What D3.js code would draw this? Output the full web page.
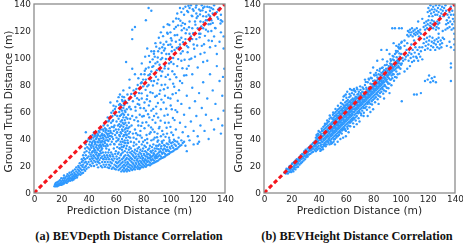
<!DOCTYPE html>
<html>
<head>
<meta charset="utf-8">
<script src="https://cdn.jsdelivr.net/npm/d3@7"></script>
<style>
  body { margin: 0; background: #fff; }
  svg { display: block; }
</style>
</head>
<body>
<div class="chart"></div>
<script>
//Tick values shared by both axes of both panels.
const tickValues = [0, 20, 40, 60, 80, 100, 120, 140];
const xTitle = "Prediction Distance (m)";
const yTitle = "Ground Truth Distance (m)";
const captions = ["(a) BEVDepth Distance Correlation", "(b) BEVHeight Distance Correlation"];

//Points, [prediction, ground truth].
//Near field of BEVDepth, the narrow tail below the line.
const depthTail = [
[15,5],[15.5,6.5],[16,5],[16,7.5],[16.5,6],[17,5],[17,8],[17.5,6.5],[18,5.5],[18,8.5],[18.5,7],[19,6],[19,9.5],[19.5,7.5],[20,6],[20,8.5],[20,11],[20.5,7],[21,9.5],[21,6.5],[21.5,8],[21.5,11],[22,7],[22,9],[22,13],[22.5,10.5],[23,8],[23,11.5],[23.5,9],[24,7.5],[24,10],[24,12.5],[24.5,14],[25,8.5],[25,11],[25.5,9.5],[25.5,13],[26,10.5],[26,12],[26,15],[26.5,9],[27,11],[27,13.5],[27.5,10],[27.5,15.5],[28,12],[28,9.5],[28,14],[28.5,11],[28.5,16.5],[29,10],[29,13],[29.5,15],[29.5,12],[30,11],[30,14],[30,17.5],[30.5,12.5],[31,16],[31,13.5],[31,19],[31.5,11.5],[32,15],[32,17.5],[32,13],[32.5,20],[33,14],[33,16.5],[33,19],[33.5,22],[34,13.5],[34,15.5],[34,18],[34.5,20.5],[35,14.5],[35,17],[35,23],[35,25],[35.5,19.5],[36,15],[36,21],[36,24],[36,28],[36.5,17.5],[36.5,26],[37,19],[37,22.5],[37,30],[37.5,16.5],[37.5,25],[37.5,33],[38,20],[38,23],[38,28],[38,36],[38,45],[38.5,18],[38.5,31],[39,21.5],[39,26],[39,34],[39,38.5]
];
//The dense cloud between the tail and the column at 65 m.
const depthCloud = [
[40,19],[40,23],[40,27],[40.5,30],[40,33],[40.5,36],[40,40],[41,25],[41,21],[41.5,28.5],[41,32],[41.5,35],[41,38],[41.5,42],[42,20],[42,23.5],[42,27],[42.5,30],[42,33.5],[42.5,37],[42,40],[43,22],[43,25.5],[43.5,28],[43,31],[43.5,34.5],[43,38],[43.5,41],[43,43],[44,20],[44,24],[44,27],[44.5,30],[44,33],[44.5,36],[44,39],[44.5,42],[44,45],[45,23],[45,26],[45.5,28.5],[45,31.5],[45.5,34],[45,37],[45.5,40],[45,43],[46,21],[46,25],[46.5,27.5],[46,30],[46.5,33],[46,35.5],[46.5,38],[46,41],[46.5,44],[47,19],[47,23],[47,26],[47.5,29],[47,32],[47.5,35],[47,37.5],[47.5,40],[47,43],[47.5,46],[48,22],[48,24.5],[48,28],[48.5,31],[48,33.5],[48.5,36],[48,39],[48.5,42],[48,45],[49,20],[49,26],[49,29.5],[49.5,32],[49,35],[49.5,37.5],[49,40.5],[49.5,43],[49,47],[50,19],[50,23],[50,27],[50.5,30],[50,33],[50.5,36],[50,38.5],[50.5,41],[50,44],[50.5,47],[51,21],[51,25],[51.5,28],[51,35],[51.5,38],[51,40],[51.5,43],[51,46],[51,50],[52,19.5],[52,23],[52,26.5],[52.5,30],[52,37],[52.5,39],[52,42],[52.5,45],[52,48],[53,21],[53,25],[53.5,28],[53,33],[53.5,36],[53,41],[53.5,44],[53,47],[53,53],[54,19],[54,23],[54,26.5],[54.5,30],[54,35],[54.5,38.5],[54,43],[54.5,46],[54,50],[54,56],[55,18.5],[55,21],[55,25],[55.5,28],[55,32],[55.5,40],[55,44],[55.5,48],[55,54],[56,20],[56,23],[56,27],[56.5,30],[56,36],[56.5,42],[56,46],[56.5,52],[56,67],[57,18],[57,22],[57,25],[57.5,28.5],[57,38],[57.5,44],[57,49],[57.5,57],[58,19],[58,24],[58,27],[58.5,33],[58,40],[58.5,46],[58,54],[58,61],[59,18],[59,21],[59,25.5],[59.5,29],[59,36],[59.5,43],[59,50],[59.5,58],[60,17.5],[60,20],[60,23],[60.5,27],[60,31],[60.5,41],[60,47],[60.5,53],[60,64],[61,19],[61,22],[61,25],[61.5,29],[61,34],[61.5,39],[61,45],[61.5,50],[61,57],[61,68]
];
//The vertical column around 65 m and the band near 20 m behind it.
const depthColumn = [
[62,17],[62,20],[62,23],[62.5,26],[62,30],[62.5,36],[62,40],[62.5,43],[62,47],[62.5,51],[62,55],[62.5,60],[62,71],[63,18],[63,21],[63,24],[63.5,28],[63,33],[63.5,38],[63,42],[63.5,45],[63,49],[63.5,53],[63,57],[63.5,62],[63,66],[63,73],[64,16],[64,19],[64,22],[64.5,25],[64,29],[64.5,32],[64,36],[64.5,40],[64,44],[64.5,47],[64,50],[64.5,54],[64,58],[64.5,61],[64,65],[64.5,69],[65,17],[65,20],[65,23],[65.5,26],[65,30],[65.5,34],[65,38],[65.5,42],[65,46],[65.5,49],[65,52],[65.5,56],[65,59],[65.5,63],[65,68],[65.5,76],[66,16],[66,18.5],[66,21],[66.5,24],[66,27],[66.5,31],[66,35],[66.5,39],[66,43],[66.5,47],[66,51],[66.5,54],[66,58],[66.5,61],[66,65],[66,71],[67,17],[67,20],[67,22.5],[67.5,25],[67,28],[67.5,33],[67,37],[67.5,41],[67,45],[67.5,48],[67,52],[67.5,56],[67,60],[67.5,67],[67.5,97],[68,16],[68,18],[68,21],[68.5,23],[68,26],[68.5,30],[68,35],[68.5,39],[68,43],[68.5,46],[68,50],[68.5,55],[68,62],[68.5,73],[69,17],[69,19.5],[69,22],[69.5,25],[69,28],[69.5,32],[69,37],[69.5,44],[69,48],[69.5,52],[69,58],[69.5,69],[70,16.5],[70,19],[70,21],[70.5,24],[70,27],[70.5,30],[70,34],[70.5,41],[70,49],[70.5,55],[70,64],[70,78],[70,84]
];
//The lower band, running out to about 110 m.
const depthBand = [
[71,18],[71,20.5],[71.5,23],[71,26],[71.5,29],[71,33],[72,17],[72,19.5],[72.5,22],[72,25],[72.5,28],[72,31],[73,18],[73,21],[73.5,24],[73,27],[73.5,30],[73,35],[74,17.5],[74,20],[74.5,22.5],[74,26],[74.5,29],[74,32],[75,19],[75,21.5],[75.5,24],[75,27],[75.5,31],[75,36],[76,18],[76,20],[76.5,23],[76,25.5],[76.5,28.5],[76,33],[77,19],[77,21.5],[77.5,24],[77,27],[77.5,30],[77,34],[78,18.5],[78,20.5],[78.5,23],[78,26],[78.5,29],[78,32],[79,19.5],[79,22],[79.5,24.5],[79,27.5],[79.5,31],[79,36],[80,19],[80,21],[80.5,23.5],[80,26],[80.5,29],[80,33],[81,20],[81,22.5],[81.5,25],[81,28],[81.5,31],[81,35],[82,19.5],[82,21.5],[82.5,24],[82,27],[82.5,30],[82,34],[83,20.5],[83,23],[83.5,25.5],[83,28.5],[83.5,32],[83,37],[84,21],[84,23.5],[84.5,26],[84,29],[84.5,33],[85,20.5],[85,22.5],[85.5,25],[85,28],[85.5,31],[85,35],[86,21.5],[86,24],[86.5,27],[86,30],[86.5,34],[87,22],[87,25],[87.5,28],[87,31.5],[87.5,36],[88,22.5],[88,24],[88.5,26.5],[88,29],[88.5,33],[89,23],[89,25.5],[89.5,28],[89,31],[89.5,35],[90,23.5],[90,26],[90.5,29],[90,33],[90.5,38],[91,24],[91,27],[91.5,30],[91,35],[92,25],[92,28],[92.5,31],[92,36],[93,25.5],[93,27],[93.5,30],[93,33],[94,26],[94,29],[94.5,32],[94,37],[95,26.5],[95,30],[95.5,33],[96,27],[96,29],[96.5,32],[96,35],[97,28],[97,31],[97.5,34],[98,28.5],[98,32],[98.5,36],[99,29],[99,31],[99.5,34],[100,30],[100,33],[100.5,37],[101,30.5],[101,35],[102,31],[102,33.5],[103,32],[103,36],[104,32.5],[104,35],[105,33],[105,38],[106,34],[106,36.5],[107,35],[108,35.5],[108,39],[109,37],[110,38],[111,35],[112,31],[114,39],[117,36],[120,36.5],[121,38]
];
//The loose fan above the band, out to the right edge.
const depthFan = [
[71,38],[72.5,44],[71.5,50],[73,41],[72,57],[74,47],[75,40],[73.5,54],[76,43],[71,62],[74.5,61],[77,38],[76.5,50],[75,56],[78,46],[72.5,68],[77.5,58],[79,41],[74,72],[79.5,52],[76,66],[80,38],[81,48],[78,63],[82.5,43],[80.5,57],[75,77],[83,40],[77,74],[84,50],[82,61],[79,70],[85.5,45],[73,76],[81,67],[86,39],[84.5,56],[87,47],[83,72],[76.5,85],[88.5,41],[86,61],[80,79],[89,52],[78.5,88],[85,68],[90.5,44],[82,84],[88,57],[91,39],[87,74],[84,80],[92,49],[79,96],[89.5,64],[93,42],[86,90],[91,56],[81.5,101],[94,46],[88,83],[90,72],[85,97],[95,39],[93,62],[83,107],[92.5,76],[87.5,94],[96,52],[89,89],[95,67],[97.5,44],[91,84],[86,105],[98,58],[93.5,80],[88.5,101],[99,41],[96,72],[90.5,97],[100,49],[94,90],[92,107],[101,62],[98,78],[89,111],[102,43],[96.5,86],[94,100],[103,54],[100,70],[91.5,115],[104,47],[98.5,92],[96,107],[105,60],[102,81],[93,119],[106,41],[100.5,97],[97,112],[107,52],[104,74],[99,103],[108,66],[95,123],[103,88],[109,45],[101,113],[105,94],[110,58],[98,125],[107,83],[111,49],[103,106],[100,119],[112,72],[108,98],[105,117],[113,42],[110,87],[102,127],[114,63],[107,110],[104,123],[115,53],[112,92],[109,105],[116,78],[106,129],[111,114],[117,46],[114,99],[108,124],[118,68],[113,108],[110,132],[119,57],[116,88],[112,121],[120,42],[115,116],[107,137],[121,74],[118,101],[114,127],[122,50],[117,110],[111,138],[123,63],[120,93],[116,122],[124,82],[119,114],[113,134],[125,46],[122,103],[118,127],[126,58],[121,118],[115,139],[127,70],[124,97],[120,131],[128,40],[123,109],[117,135],[129,88],[126,121],[119,139],[130,54],[125,104],[122,127],[131,76],[128,113],[121,136],[132,47],[127,98],[124,131],[133,66],[130,120],[123,139],[134,94],[129,108],[126,134],[135,55],[132,116],[125,138],[136,83],[131,126],[128,132],[137,44],[134,103],[127,138],[138,72],[133,122],[130,137],[139,61],[136,112],[129,135],[139.5,92],[135,129],[132,139],[138,50],[137,119],[134,134],[139,107],[136,137],[138,127],[139,116],[137,132],[138.5,86],[133,109],[131,133],[130,128],[128,125],[126,128],[124,122],[122,118],[120,122],[118,118],[116,114],[114,118],[112,109],[110,122],[109,126],[108,115],[106,108],[104,112],[102,100],[101,105],[100,110],[99,96],[98,118],[97,103],[96,94],[95,110],[94,108],[93,99],[92,95],[91,105],[90,91],[89,96],[88,105],[87,99],[86,83],[85,88],[84,93],[83,79],[82,92],[81,88],[80,84],[79,82],[78,78],[77,69],[76,80],[74,88],[72,92],[72,114],[72,121],[74,123],[82,128],[84,137],[86,135],[105,133],[108,134],[114,137],[116,131],[119,133],[122,135],[124,137],[127,128],[129,131],[133,133],[135,136],[137,128]
];
//A second pass over the parts of the fan that looked too thin.
const depthFill = [
[73.3,37.4],[77.8,42.6],[81.4,39.2],[84.7,43.8],[87.6,39.7],[90.2,41.3],[93.7,38.2],[96.4,41.6],[99.3,37.9],[102.6,39.4],[74.8,44.3],[78.6,49.7],[82.3,52.4],[85.8,48.6],[88.3,45.2],[91.6,47.9],[94.8,43.4],[97.2,48.3],[100.7,44.8],[76.2,53.1],[79.3,56.7],[83.6,58.3],[86.9,54.2],[89.7,58.8],[92.8,53.6],[95.6,57.3],[98.7,52.1],[101.8,55.6],[74.3,63.7],[77.2,65.4],[80.6,62.8],[84.2,64.9],[87.4,62.3],[90.8,66.7],[93.4,69.2],[96.9,62.4],[100.2,64.8],[103.7,61.4],[75.6,70.2],[78.9,73.8],[82.7,69.4],[85.3,74.6],[88.8,71.3],[91.9,73.4],[95.2,76.8],[98.3,70.6],[101.6,73.2],[105.4,68.3],[78.4,81.3],[81.8,76.4],[84.9,84.7],[87.2,79.6],[90.3,81.2],[93.2,86.7],[96.1,80.3],[99.6,84.2],[102.8,78.7],[106.3,76.2],[81.2,90.6],[83.9,87.3],[86.7,93.4],[89.4,86.1],[92.3,90.8],[95.7,92.3],[98.2,87.6],[101.4,90.2],[104.3,85.7],[108.6,81.4],[84.3,101.6],[87.9,103.2],[90.7,100.4],[93.6,103.7],[96.7,99.3],[99.8,100.8],[102.3,95.6],[105.7,99.2],[108.8,92.4],[111.6,87.3],[89.6,108.4],[92.7,111.3],[95.3,105.6],[98.4,109.7],[101.2,108.2],[104.6,107.4],[107.6,103.3],[110.4,98.7],[113.4,94.2],[94.6,116.2],[97.6,118.7],[100.4,114.6],[103.2,116.8],[106.7,113.4],[109.3,111.7],[112.6,104.3],[115.3,99.6],[99.2,124.4],[102.8,121.6],[105.6,124.2],[108.3,120.6],[111.2,118.3],[114.3,112.6],[117.4,106.8],[104.2,129.3],[107.3,127.6],[110.7,125.2],[113.6,122.8],[116.7,118.4],[119.6,109.3],[109.4,136.6],[112.3,134.8],[115.6,131.4],[118.3,124.7],[121.4,115.3],[124.6,110.2],[113.2,138.7],[116.4,136.2],[119.2,129.6],[122.7,123.3],[125.3,116.4],[118.6,137.4],[121.7,132.3],[124.2,126.6],[127.6,119.7],[130.4,112.6],[123.4,135.3],[126.3,130.7],[129.4,125.2],[132.7,122.3],[128.6,137.6],[131.3,136.2],[134.4,130.3],[136.7,125.6],
[42.7,25.6],[44.3,31.7],[46.6,23.4],[47.4,27.8],[49.3,34.3],[50.7,25.2],[52.4,34.6],[53.7,39.2],[55.6,42.3],[57.3,41.6],[58.7,36.4],[60.3,38.2],[42.3,35.6],[44.7,37.8],[46.4,42.3],[48.6,37.7],[50.3,42.6],[52.6,46.7],[54.3,41.4],[56.3,44.7],[58.4,48.7],[60.7,44.6],[62.7,33.2],[64.3,34.2],[66.3,37.3],[67.3,43.4],[68.7,37.2],[69.3,41.6],[70.4,45.3],[62.3,65.3],[64.7,71.4],[66.7,68.4],[68.3,66.6],[71.3,73.4],[69.7,63.4],[59.3,62.3],[57.6,53.3],[58.3,64.7],[56.7,59.4],[54.6,53.2],[73.7,19.3],[75.3,24.7],[77.3,17.8],[79.6,25.8],[81.7,24.2],[83.3,26.6],[85.6,26.7],[87.7,29.4],[89.3,27.2],[91.3,32.4],[93.3,34.7],[95.3,35.4],[97.3,36.7],[99.4,39.2],[101.7,37.6],[103.6,38.4]
];

//BEVHeight, a tight band along the line.
const heightNear = [
[15,15],[16,14.5],[16,16.5],[16.5,18],[17,15.5],[17,17.5],[17.5,14.5],[18,16],[18,18],[18.5,19.5],[19,15.5],[19,17.5],[19,20],[19.5,16.5],[20,15.5],[20,18],[20,19.5],[20.5,21.5],[21,17],[21,19],[21,22],[21.5,16],[22,18],[22,20],[22,23],[22.5,19],[22.5,21.5],[23,17.5],[23,20.5],[23,24],[23.5,22],[24,19],[24,21],[24,25],[24.5,23],[25,19.5],[25,22],[25,24.5],[25.5,26],[26,21],[26,23.5],[26,26.5],[26.5,24.5],[27,22],[27,25],[27,28],[27.5,26.5],[28,23],[28,25.5],[28,29],[28.5,27],[29,24],[29,26],[29,28.5],[29.5,31],[30,25],[30,27.5],[30,30],[30.5,32],[31,26.5],[31,29],[31,31.5],[31.5,28],[32,27],[32,30],[32,33],[32.5,31],[33,28.5],[33,31],[33,34],[33.5,32.5],[34,29],[34,31.5],[34,35],[34.5,33],[35,30],[35,32],[35,36],[35.5,34],[36,30.5],[36,33],[36,37],[36.5,35],[37,32],[37,34.5],[37,38],[37.5,36],[38,31],[38,33],[38,35],[38,39],[38,41],[38.5,37],[38.5,43],[39,32],[39,34],[39,36.5],[39,40],[39,42],[39.5,38],[39.5,44],[40,33],[40,35],[40,37],[40,39],[40,41],[40,43],[40,46]
];
const heightBand = [
[41,33],[41.5,35],[41,37],[41.5,39],[41,41],[41.5,43],[41,45],[42,32],[42.5,34],[42,36],[42.5,38],[42,40],[42.5,42],[42,44],[42.5,46],[43,34],[43.5,36],[43,38],[43.5,40],[43,42],[43.5,44],[43,46],[43.5,49],[44,35],[44.5,37],[44,39],[44.5,41],[44,43],[44.5,45],[44,47],[44.5,50],[45,36],[45.5,38],[45,40],[45.5,42],[45,44],[45.5,46],[45,48],[45.5,51],[46,36],[46.5,39],[46,41],[46.5,43],[46,45],[46.5,47],[46,49],[46.5,52],[47,38],[47.5,40],[47,42],[47.5,44],[47,46],[47.5,48],[47,50],[47.5,53],[48,36],[48.5,39],[48,41],[48.5,43],[48,45],[48.5,47],[48,49],[48.5,51],[48,55],[49,38],[49.5,40],[49,42],[49.5,44],[49,46],[49.5,48],[49,50],[49.5,52],[49,56],[50,37],[50.5,41],[50,43],[50.5,45],[50,47],[50.5,49],[50,51],[50.5,53],[50,55],[50.5,58],[51,38],[51.5,42],[51,44],[51.5,46],[51,48],[51.5,50],[51,52],[51.5,54],[51,56],[51.5,59],[52,40],[52.5,43],[52,45],[52.5,47],[52,49],[52.5,51],[52,53],[52.5,55],[52,57],[52.5,60],[53,41],[53.5,44],[53,46],[53.5,48],[53,50],[53.5,52],[53,54],[53.5,56],[53,58],[53.5,61],[54,42],[54.5,45],[54,47],[54.5,49],[54,51],[54.5,53],[54,55],[54.5,57],[54,59],[54.5,62],[55,43],[55.5,46],[55,48],[55.5,50],[55,52],[55.5,54],[55,56],[55.5,58],[55,60],[55.5,63],[56,45],[56.5,47],[56,49],[56.5,51],[56,53],[56.5,55],[56,57],[56.5,59],[56,61],[56.5,64],[57,44],[57.5,48],[57,50],[57.5,52],[57,54],[57.5,56],[57,58],[57.5,60],[57,62],[57.5,66],[58,47],[58.5,49],[58,51],[58.5,53],[58,55],[58.5,57],[58,59],[58.5,61],[58,63],[58.5,65],[58,69],[59,48],[59.5,50],[59,52],[59.5,54],[59,56],[59.5,58],[59,60],[59.5,62],[59,64],[59.5,67],[59,72],[60,46],[60.5,51],[60,53],[60.5,55],[60,57],[60.5,59],[60,61],[60.5,63],[60,65],[60.5,68],[60,73],[61,49],[61.5,52],[61,54],[61.5,56],[61,58],[61.5,60],[61,62],[61.5,64],[61,66],[61.5,69],[61,75],[62,50],[62.5,53],[62,55],[62.5,57],[62,59],[62.5,61],[62,63],[62.5,65],[62,67],[62.5,71],[63,52],[63.5,54],[63,56],[63.5,58],[63,60],[63.5,62],[63,64],[63.5,66],[63,68],[63.5,72],[64,53],[64.5,55],[64,57],[64.5,59],[64,61],[64.5,63],[64,65],[64.5,67],[64,69],[64.5,74],[65,54],[65.5,56],[65,58],[65.5,60],[65,62],[65.5,64],[65,66],[65.5,68],[65,70],[65.5,76],[66,55],[66.5,58],[66,60],[66.5,62],[66,64],[66.5,66],[66,68],[66.5,70],[66,73],[67,56],[67.5,59],[67,61],[67.5,63],[67,65],[67.5,67],[67,69],[67.5,71],[67,75],[68,57],[68.5,60],[68,62],[68.5,64],[68,66],[68.5,68],[68,70],[68.5,73],[69,59],[69.5,61],[69,63],[69.5,65],[69,67],[69.5,69],[69,71],[69.5,75],[70,60],[70.5,62],[70,64],[70.5,66],[70,68],[70.5,70],[70,72],[70.5,79],[71,59],[71.5,63],[71,65],[71.5,67],[71,69],[71.5,71],[71,74],[72,61],[72.5,64],[72,66],[72.5,68],[72,70],[72.5,72],[72,75],[73,63],[73.5,65],[73,67],[73.5,69],[73,71],[73.5,73],[73,77],[74,63],[74.5,66],[74,68],[74.5,70],[74,72],[74.5,74],[74,80],[75,64],[75.5,67],[75,69],[75.5,71],[75,73],[75.5,75],[75,78],[76,66],[76.5,68],[76,70],[76.5,72],[76,74],[76.5,76],[76,82],[77,67],[77.5,69],[77,71],[77.5,73],[77,75],[77.5,77],[77,84],[78,66],[78.5,70],[78,72],[78.5,74],[78,76],[78.5,78],[78,81],[79,68],[79.5,71],[79,73],[79.5,75],[79,77],[79.5,79],[79,85],[80,69],[80.5,72],[80,74],[80.5,76],[80,78],[80.5,80],[80,83],[81,70],[81.5,73],[81,75],[81.5,77],[81,79],[81.5,82],[81,87],[82,71],[82.5,74],[82,76],[82.5,78],[82,80],[82.5,83],[82,89],[83,73],[83.5,75],[83,77],[83.5,79],[83,81],[83.5,84],[83,91],[84,72],[84.5,76],[84,78],[84.5,80],[84,82],[84.5,85],[84,88],[85,74],[85.5,77],[85,79],[85.5,81],[85,83],[85.5,86],[85,92],[86,75],[86.5,78],[86,80],[86.5,82],[86,84],[86.5,87],[86,89],[87,77],[87.5,79],[87,81],[87.5,83],[87,85],[87.5,88],[87,93],[88,76],[88.5,80],[88,82],[88.5,84],[88,86],[88.5,89],[88,91],[89,79],[89.5,83],[89,85],[89.5,87],[89,89],[89.5,92],[90,78],[90.5,82],[90,84],[90.5,86],[90,88],[90.5,90],[90,95],[91,81],[91.5,85],[91,87],[91.5,89],[91,91],[91.5,94],[92,81],[92.5,84],[92,88],[92.5,90],[92,92],[92.5,96],[93,84],[93.5,87],[93,89],[93.5,91],[93,94],[93,98],[94,85],[94.5,88],[94,90],[94.5,92],[94,95],[94.5,99],[95,88],[95.5,91],[95,93],[95.5,96],[95,101],[96,86],[96.5,92],[96,94],[96.5,97],[96,103],[97,90],[97.5,93],[97,95],[97.5,98],[97,104],[98,88],[98.5,94],[98,96],[98.5,99],[98,105],[99,93],[99.5,96],[99,98],[99.5,101],[99,107],[100,92],[100.5,95],[100,99],[100.5,103],[100,108]
];
//The far clumps, each read as its own patch.
const heightFar = [
[101,96],[101.5,100],[102,98],[102.5,103],[103,90],[103.5,99],[104,101],[104.5,106],[105,92],[105.5,102],[106,98],[106.5,104],[107,94],[107.5,100],[108,103],[108.5,97],[109,106],[109.5,101],[110,98],[110.5,104],[111,108],[111.5,101],[112,100],[112.5,106],[113,98],[113.5,103],[114,108],[114.5,101],[115,105],[116,99],[95,111],[97,109],[99,110],[101,112],[103,109],[100,107],
[105,117],[105.5,120],[106,116],[106.5,119],[107,121],[107.5,117],[108,119],[108.5,122],[109,116],[109.5,120],[110,118],[110.5,121],[111,117],[111.5,119],[112,122],[112.5,118],[113,120],[113.5,116],[114,119],[114.5,121],[115,118],[94,122],[96,122],[99,122],[101,122],
[117,123],[117.5,126],[118,121],[118.5,124],[119,127],[119.5,122],[120,125],[120.5,128],[121,121],[121.5,124],[122,126],[122.5,123],[123,128],[123.5,125],[124,122],[124.5,127],[125,124],[125.5,126],[126,121],[126.5,123],[127,127],[127.5,125],[128,122],[128.5,126],
[116,108],[117,111],[117.5,114],[118,106],[118.5,109],[119,112],[119.5,115],[120,107],[120.5,110],[121,113],[121.5,116],[122,106],[122.5,109],[123,112],[123.5,115],[124,108],[124.5,111],[125,113],[125.5,106],[126,110],[126.5,114],[127,108],[127.5,112],[128,115],[128.5,107],[129,110],[129.5,113],[130,108],[130.5,111],[131,115],
[120,134],[120.5,137],[121,131],[121.5,135],[122,139],[122.5,133],[123,136],[123.5,131],[124,138],[124.5,134],[125,136],[125.5,132],[126,139],[126.5,135],[127,132],[127.5,137],[128,134],[128.5,139],[129,131],[129.5,136],[130,133],[130.5,138],[131,135],[131.5,131],[132,137],[132.5,133],[133,139],[133.5,135],
[133,121],[133.5,125],[134,128],[134.5,122],[135,126],[135.5,130],[136,123],[136.5,127],[137,132],[137.5,121],[138,125],[138.5,129],[139,122],[139.5,127],[139,132],[138,135],[136,134],[134.5,132],[139.5,139],[137,138],
[120,84],[121,87],[122,82],[123,85],[124,83],[125,86],[126,82],[118,83],[137,96],[137,93],[137,83],[110,73],[112,73],[115,74],[101,68],[139.5,106],[139.5,110],[139.5,114],[139.5,118],[136,112],[137,108],[134,109],[132,114],[131,120],[128,118],[116,129],[113,127],[110,113],[108,110],[105,111],[103,113],[92,103],[90,106],[87,99],[86,106],[83,98],[80,93],[78,89],[74,84],[68,78],[66,77],[63,77],[76,57],[73,57],[70,53],[68,51],[66,49],[62,45],[60,42],[58,41],[56,40],[54,38],[52,36],[78,60],[80,62],[84,66],[88,70],[92,74]
];
//A second pass that widens the band where the first pass looked striped.
const heightFill = [
[42.3,47.6],[44.7,51.3],[46.3,53.7],[48.2,57.4],[50.7,59.6],[52.4,62.3],[54.2,64.6],[56.3,66.7],[58.3,71.4],[60.4,70.6],[62.7,73.4],[64.2,76.3],[66.6,75.7],[68.4,76.8],[70.7,76.4],[72.3,78.2],[74.6,82.3],[76.7,84.6],[78.3,85.4],[80.7,87.6],[82.3,87.2],[84.7,90.3],[86.4,92.6],[88.6,94.7],[90.3,97.4],[92.7,99.2],[94.3,101.6],[96.7,105.3],[98.4,108.2],[100.6,111.3],[55.3,44.7],[57.2,46.3],[59.4,46.8],[61.3,47.6],[63.2,49.4],[65.3,51.6],[67.2,53.7],[69.3,55.4],[71.3,57.6],[73.2,59.4],[75.4,61.7],[77.3,63.4],[79.2,65.6],[81.4,67.2],[83.3,69.4],[85.2,71.3],[87.4,73.6],[89.3,75.4],[91.2,77.6],[93.4,79.8],[95.3,83.2],[97.2,85.6],[99.3,88.4],[47.3,37.2],[49.2,36.4],[51.4,39.6],[53.3,42.2],[45.2,34.6],[43.2,32.4],[41.3,31.2],
[50.3,46.2],[52.2,48.3],[54.3,50.2],[56.2,52.4],[58.3,54.3],[60.2,56.4],[62.3,58.2],[64.3,60.4],[66.2,62.3],[68.3,65.2],[70.2,67.4],[72.3,69.2],[74.2,71.3],[76.3,73.2],[78.2,75.4],[80.3,77.2],[82.2,79.3],[84.3,81.4],[86.2,83.2],[88.3,85.3],[90.2,87.4],[92.3,89.2],[94.3,93.4],[96.2,95.3],[98.3,97.2],[51.2,54.4],[53.2,57.3],[55.2,59.4],[57.2,61.3],[59.2,63.4],[61.2,65.3],[63.2,67.4],[65.2,69.3],[67.2,71.4],[69.2,73.3],[71.2,72.6],[73.2,74.4],[75.2,76.6],[77.2,78.3],[79.2,80.6],[81.2,83.4],[83.2,85.6],[85.2,87.4],[87.2,89.6],[89.2,90.4],[91.2,92.6],[93.2,95.4],[95.2,98.3],[97.2,100.6],[99.2,103.4]
];
const depthPoints = [...depthTail, ...depthCloud, ...depthColumn, ...depthBand, ...depthFan, ...depthFill];
const heightPoints = [...heightNear, ...heightBand, ...heightFar, ...heightFill];

const plotWidth = 191;
const plotHeight = 189;
const plotTop = 4;
const panels = [
    {points: depthPoints, left: 34, captionX: 129},
    {points: heightPoints, left: 264, captionX: 357}
];

let x = d3.scaleLinear().domain([0, 140]).range([0, plotWidth]);
let y = d3.scaleLinear().domain([0, 140]).range([plotHeight, 0]);

let svg = d3.select(".chart").append("svg")
    .attr("width", 463)
    .attr("height", 248);

svg.append("rect").attr("width", 463).attr("height", 248).attr("fill", "#fff");

let defs = svg.append("defs");
defs.append("clipPath").attr("id", "plot-clip")
    .append("rect").attr("width", plotWidth).attr("height", plotHeight);
defs.append("filter").attr("id", "soft")
    .append("feGaussianBlur").attr("stdDeviation", 0.3);

panels.forEach((panel, i) => {

    let plot = svg.append("g")
        .attr("transform", `translate(${panel.left},${plotTop})`)
        .attr("filter", "url(#soft)");

    //Points and the red reference line are cut off at the frame.
    let inner = plot.append("g").attr("clip-path", "url(#plot-clip)");

    inner.selectAll("circle")
        .data(panel.points)
        .enter().append("circle")
        .attr("cx", d => x(d[0]))
        .attr("cy", d => y(d[1]))
        .attr("r", 1.2)
        .style("fill", "#2f99ff");

    inner.append("line")
        .attr("x1", x(0)).attr("y1", y(0))
        .attr("x2", x(140)).attr("y2", y(140))
        .style("stroke", "#f5141e")
        .style("stroke-width", 3)
        .style("stroke-dasharray", "4.3,2.7");

    let xAxis = d3.axisBottom(x).tickValues(tickValues).tickSize(0).tickPadding(3);
    let yAxis = d3.axisLeft(y).tickValues(tickValues).tickSize(0).tickPadding(3);

    let gx = plot.append("g").attr("transform", `translate(0,${plotHeight})`).call(xAxis);
    let gy = plot.append("g").call(yAxis);

    [gx, gy].forEach(g => {
        g.select(".domain").remove();
        g.selectAll("text")
            .style("font-family", "'DejaVu Sans'")
            .style("font-size", "8.9px")
            .style("fill", "#262626");
    });

    //The frame is drawn as one grey box around the plot.
    plot.append("rect")
        .attr("width", plotWidth).attr("height", plotHeight)
        .style("fill", "none")
        .style("stroke", "#8c8c8c")
        .style("stroke-width", 1.3);

    plot.append("text")
        .attr("x", plotWidth / 2).attr("y", plotHeight + 21)
        .attr("text-anchor", "middle")
        .style("font-family", "'DejaVu Sans'")
        .style("font-size", "10.7px")
        .style("fill", "#262626")
        .text(xTitle);

    plot.append("text")
        .attr("transform", `translate(-22,${plotHeight / 2 + 3}) rotate(-90)`)
        .attr("text-anchor", "middle")
        .style("font-family", "'DejaVu Sans'")
        .style("font-size", "10.7px")
        .style("fill", "#262626")
        .text(yTitle);

    svg.append("text")
        .attr("x", panel.captionX).attr("y", 240)
        .attr("text-anchor", "middle")
        .style("font-family", "'Liberation Serif'")
        .style("font-weight", "bold")
        .style("font-size", "12.3px")
        .style("fill", "#111")
        .text(captions[i]);
});
</script>
</body>
</html>
